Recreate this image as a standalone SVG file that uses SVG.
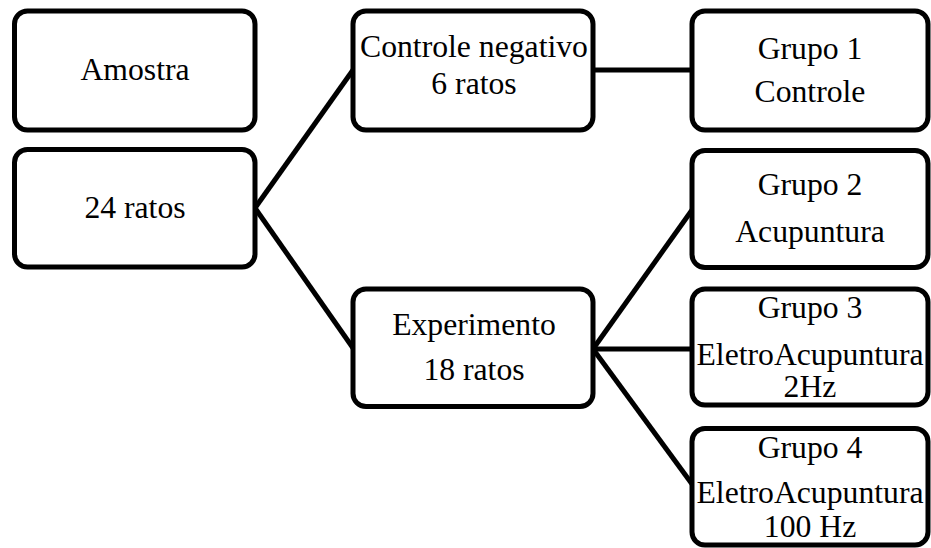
<svg xmlns="http://www.w3.org/2000/svg" width="931" height="548" viewBox="0 0 931 548">
<style>
.box{fill:#fff;stroke:#000;stroke-width:5}
.t{font-family:"Liberation Serif","Times New Roman",serif;font-size:31.7px;fill:#000;text-anchor:middle}
.c{stroke:#000;stroke-width:5;fill:none}
</style>
<rect width="931" height="548" fill="#fff"/>
<g id="connectors">
<line class="c" x1="255" y1="208" x2="353" y2="70"/>
<line class="c" x1="255" y1="208" x2="353" y2="348"/>
<line class="c" x1="593" y1="70" x2="692" y2="70"/>
<line class="c" x1="593" y1="349" x2="692" y2="210"/>
<line class="c" x1="593" y1="349" x2="692" y2="349"/>
<line class="c" x1="593" y1="349" x2="692" y2="484"/>
</g>
<g id="amostra">
<rect class="box" x="14.5" y="11" width="240.5" height="119" rx="13"/>
<text class="t" x="135" y="80">Amostra</text>
</g>
<g id="ratos24">
<rect class="box" x="14.5" y="149.5" width="240.5" height="117.5" rx="13"/>
<text class="t" x="135" y="218">24 ratos</text>
</g>
<g id="controle-negativo">
<rect class="box" x="353" y="11" width="240" height="119" rx="13"/>
<text class="t" x="474" y="57">Controle negativo</text>
<text class="t" x="474" y="94">6 ratos</text>
</g>
<g id="experimento">
<rect class="box" x="353" y="289" width="240" height="117.5" rx="13"/>
<text class="t" x="474" y="335">Experimento</text>
<text class="t" x="474" y="380">18 ratos</text>
</g>
<g id="grupo1">
<rect class="box" x="692" y="11" width="236" height="119" rx="13"/>
<text class="t" x="810" y="59">Grupo 1</text>
<text class="t" x="810" y="102">Controle</text>
</g>
<g id="grupo2">
<rect class="box" x="692" y="150.5" width="236" height="117" rx="13"/>
<text class="t" x="810" y="195">Grupo 2</text>
<text class="t" x="810" y="241.5">Acupuntura</text>
</g>
<g id="grupo3">
<rect class="box" x="692" y="289" width="236" height="116" rx="13"/>
<text class="t" x="810" y="318">Grupo 3</text>
<text class="t" x="810" y="365">EletroAcupuntura</text>
<text class="t" x="810" y="397">2Hz</text>
</g>
<g id="grupo4">
<rect class="box" x="692" y="428.5" width="236" height="116.5" rx="13"/>
<text class="t" x="810" y="458">Grupo 4</text>
<text class="t" x="810" y="503">EletroAcupuntura</text>
<text class="t" x="810" y="537">100 Hz</text>
</g>
</svg>
